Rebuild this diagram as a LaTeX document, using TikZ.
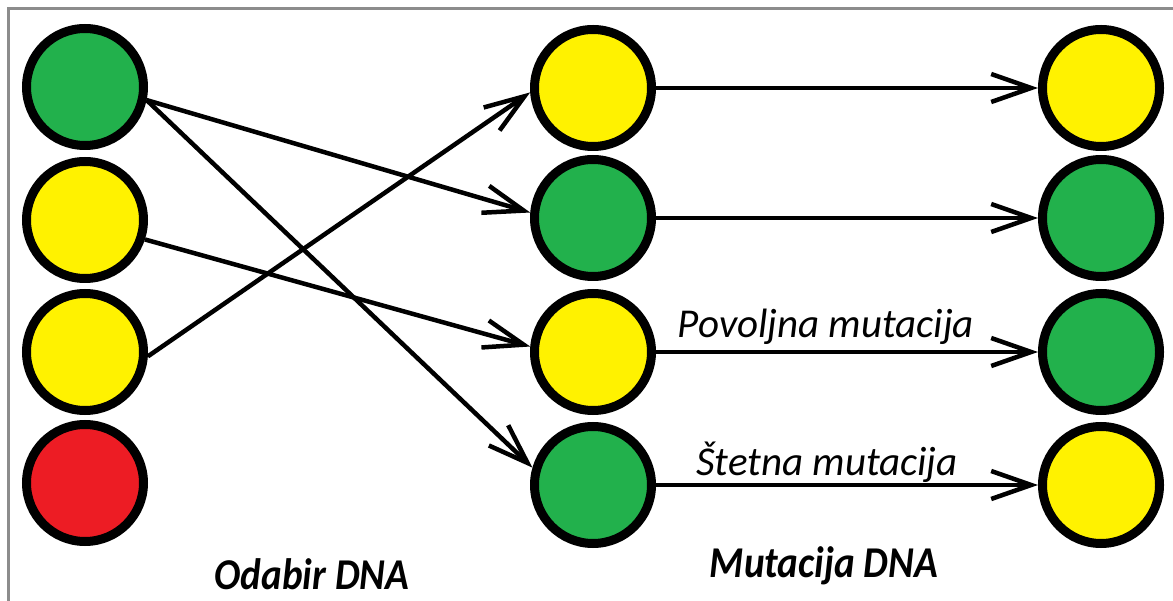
\documentclass[tikz,border=0pt]{standalone}
\usepackage{fontspec}
\setmainfont{Carlito}
\usetikzlibrary{arrows.meta}
\definecolor{pgreen}{HTML}{22B14C}
\definecolor{pyellow}{HTML}{FFF200}
\definecolor{pred}{HTML}{ED1C24}
\definecolor{frame}{HTML}{8C8C8C}
\tikzset{
  ball/.style={circle, draw=black, line width=9pt, minimum size=117pt, inner sep=0pt},
  gball/.style={ball, fill=pgreen},
  yball/.style={ball, fill=pyellow},
  rball/.style={ball, fill=pred},
  conn/.style={line width=4.5pt, -{Straight Barb[length=40pt,width=28pt,line width=4.5pt]}},
  mutlabel/.style={font=\fontsize{41}{41}\selectfont\itshape, inner sep=0pt},
  caption/.style={font=\fontsize{44}{44}\selectfont\bfseries\itshape, inner sep=0pt, xscale=0.89}
}
\begin{document}
\begin{tikzpicture}[x=1pt,y=-1pt]
\useasboundingbox (0,0) rectangle (1173,601);
\fill[white] (0,0) rectangle (1173,601);
\coordinate (fb) at (8.5,601);
\coordinate (fc) at (8.5,8.5);
\coordinate (fr) at (1173,8.5);
\draw[frame, line width=3pt] (fb) -- (fc) -- (fr);
% left column
\node[gball] (l1) at (85,87) {};
\node[yball] (l2) at (85,220) {};
\node[yball] (l3) at (85,352) {};
\node[rball] (l4) at (85,483) {};
% middle column
\node[yball] (m1) at (593,88) {};
\node[gball] (m2) at (593,218) {};
\node[yball] (m3) at (593,352) {};
\node[gball] (m4) at (593,485) {};
% right column
\node[yball] (r1) at (1101,88) {};
\node[gball] (r2) at (1101,218) {};
\node[gball] (r3) at (1101,352) {};
\node[yball] (r4) at (1101,485) {};
% selection arrows
\draw[conn] (l1.-12.7) -- (m2.175.5);
\draw[conn] (l1.-12.7) -- (m4.164);
\draw[conn] (l2.-18) -- (m3.175.5);
\draw[conn] (l3.-4.6) -- (m1.184.4);
% mutation arrows
\draw[conn] (m1.east) -- (r1.west);
\draw[conn] (m2.east) -- (r2.west);
\draw[conn] (m3.east) -- (r3.west);
\draw[conn] (m4.east) -- (r4.west);
% labels
\node[mutlabel] (povoljna) at (826,327) {Povoljna mutacija};
\node[mutlabel] (stetna) at (827,462) {Štetna mutacija};
\node[caption] (odabir) at (312,574) {Odabir DNA};
\node[caption] (mutacija) at (824,566) {Mutacija DNA};
\end{tikzpicture}
\end{document}
